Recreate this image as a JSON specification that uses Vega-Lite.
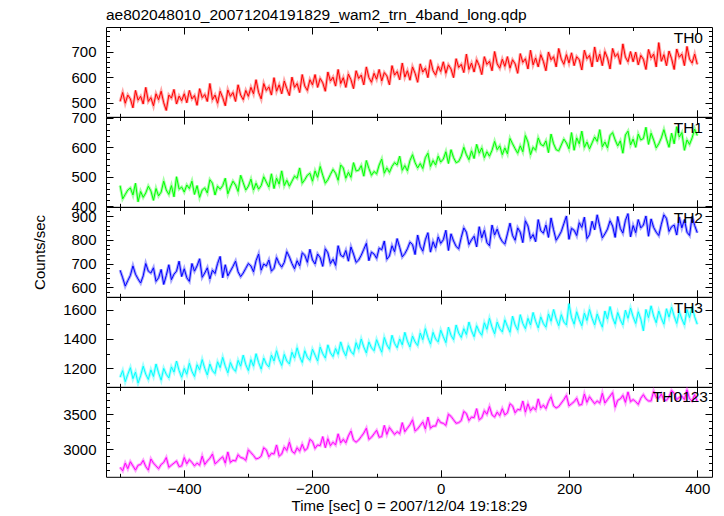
{
  "$schema": "https://vega.github.io/schema/vega-lite/v6.json",
  "autosize": {"type": "none"},
  "padding": {"left": 106, "top": 27, "right": 12, "bottom": 489},
  "background": "white",
  "title": {"text": "ae802048010_20071204191829_wam2_trn_4band_long.qdp", "anchor": "start", "frame": "group", "fontSize": 15.5, "font": "Liberation Sans", "fontWeight": "normal", "baseline": "alphabetic", "offset": -12, "color": "black"},
  "config": {
    "view": {"stroke": "black", "strokeWidth": 1},
    "font": "Liberation Sans",
    "axis": {"domain": false, "grid": false, "tickColor": "black", "tickWidth": 1, "labelColor": "black", "labelFont": "Liberation Sans", "labelFontSize": 15, "titleFont": "Liberation Sans", "titleFontSize": 15, "titleFontWeight": "normal", "titleColor": "black", "labelOverlap": false, "labelFlush": false, "labelBound": false},
    "title": {"font": "Liberation Sans", "fontWeight": "normal", "color": "black"},
    "text": {"font": "Liberation Sans", "fontSize": 15.5, "color": "black", "align": "right", "baseline": "alphabetic"}
  },
  "datasets": {"lc": [
{"time":-500,"TH0":505,"TH1":470,"TH2":672,"TH3":1140,"TH0123":2740},
{"time":-496,"TH0":540,"TH1":425,"TH2":640,"TH3":1185,"TH0123":2690},
{"time":-492,"TH0":498,"TH1":440,"TH2":605,"TH3":1110,"TH0123":2800},
{"time":-488,"TH0":530,"TH1":455,"TH2":628,"TH3":1160,"TH0123":2720},
{"time":-484,"TH0":515,"TH1":462,"TH2":650,"TH3":1205,"TH0123":2820},
{"time":-480,"TH0":480,"TH1":438,"TH2":690,"TH3":1130,"TH0123":2760},
{"time":-476,"TH0":548,"TH1":478,"TH2":655,"TH3":1175,"TH0123":2700},
{"time":-472,"TH0":510,"TH1":415,"TH2":635,"TH3":1100,"TH0123":2770},
{"time":-468,"TH0":525,"TH1":450,"TH2":618,"TH3":1150,"TH0123":2780},
{"time":-464,"TH0":495,"TH1":430,"TH2":648,"TH3":1215,"TH0123":2840},
{"time":-460,"TH0":560,"TH1":445,"TH2":700,"TH3":1160,"TH0123":2750},
{"time":-456,"TH0":505,"TH1":468,"TH2":668,"TH3":1125,"TH0123":2700},
{"time":-452,"TH0":520,"TH1":452,"TH2":660,"TH3":1190,"TH0123":2860},
{"time":-448,"TH0":488,"TH1":420,"TH2":682,"TH3":1145,"TH0123":2800},
{"time":-444,"TH0":535,"TH1":460,"TH2":625,"TH3":1230,"TH0123":2760},
{"time":-440,"TH0":512,"TH1":435,"TH2":640,"TH3":1170,"TH0123":2720},
{"time":-436,"TH0":545,"TH1":448,"TH2":675,"TH3":1120,"TH0123":2780},
{"time":-432,"TH0":500,"TH1":485,"TH2":612,"TH3":1200,"TH0123":2810},
{"time":-428,"TH0":470,"TH1":455,"TH2":650,"TH3":1160,"TH0123":2880},
{"time":-424,"TH0":530,"TH1":440,"TH2":695,"TH3":1135,"TH0123":2740},
{"time":-420,"TH0":518,"TH1":470,"TH2":632,"TH3":1210,"TH0123":2770},
{"time":-416,"TH0":552,"TH1":432,"TH2":655,"TH3":1175,"TH0123":2800},
{"time":-412,"TH0":495,"TH1":500,"TH2":668,"TH3":1250,"TH0123":2830},
{"time":-408,"TH0":526,"TH1":458,"TH2":710,"TH3":1185,"TH0123":2750},
{"time":-404,"TH0":508,"TH1":465,"TH2":645,"TH3":1140,"TH0123":2760},
{"time":-400,"TH0":535,"TH1":448,"TH2":678,"TH3":1200,"TH0123":2880},
{"time":-396,"TH0":500,"TH1":472,"TH2":640,"TH3":1160,"TH0123":2790},
{"time":-392,"TH0":548,"TH1":460,"TH2":625,"TH3":1235,"TH0123":2850},
{"time":-388,"TH0":515,"TH1":485,"TH2":700,"TH3":1180,"TH0123":2810},
{"time":-384,"TH0":528,"TH1":440,"TH2":668,"TH3":1145,"TH0123":2760},
{"time":-380,"TH0":490,"TH1":470,"TH2":690,"TH3":1225,"TH0123":2800},
{"time":-376,"TH0":555,"TH1":430,"TH2":720,"TH3":1190,"TH0123":2770},
{"time":-372,"TH0":520,"TH1":455,"TH2":642,"TH3":1260,"TH0123":2900},
{"time":-368,"TH0":532,"TH1":462,"TH2":660,"TH3":1200,"TH0123":2780},
{"time":-364,"TH0":505,"TH1":445,"TH2":682,"TH3":1155,"TH0123":2830},
{"time":-360,"TH0":575,"TH1":490,"TH2":635,"TH3":1230,"TH0123":2870},
{"time":-356,"TH0":512,"TH1":478,"TH2":672,"TH3":1185,"TH0123":2930},
{"time":-352,"TH0":530,"TH1":438,"TH2":658,"TH3":1165,"TH0123":2790},
{"time":-348,"TH0":498,"TH1":468,"TH2":700,"TH3":1245,"TH0123":2820},
{"time":-344,"TH0":545,"TH1":458,"TH2":730,"TH3":1205,"TH0123":2860},
{"time":-340,"TH0":520,"TH1":470,"TH2":640,"TH3":1275,"TH0123":2890},
{"time":-336,"TH0":488,"TH1":495,"TH2":695,"TH3":1215,"TH0123":2800},
{"time":-332,"TH0":550,"TH1":442,"TH2":648,"TH3":1170,"TH0123":2960},
{"time":-328,"TH0":525,"TH1":465,"TH2":668,"TH3":1240,"TH0123":2810},
{"time":-324,"TH0":540,"TH1":485,"TH2":688,"TH3":1200,"TH0123":2840},
{"time":-320,"TH0":505,"TH1":472,"TH2":710,"TH3":1180,"TH0123":2830},
{"time":-316,"TH0":570,"TH1":450,"TH2":665,"TH3":1255,"TH0123":2920},
{"time":-312,"TH0":530,"TH1":505,"TH2":645,"TH3":1215,"TH0123":2880},
{"time":-308,"TH0":512,"TH1":480,"TH2":660,"TH3":1290,"TH0123":2870},
{"time":-304,"TH0":548,"TH1":455,"TH2":680,"TH3":1225,"TH0123":2840},
{"time":-300,"TH0":525,"TH1":468,"TH2":700,"TH3":1185,"TH0123":2990},
{"time":-296,"TH0":560,"TH1":492,"TH2":690,"TH3":1260,"TH0123":2950},
{"time":-292,"TH0":535,"TH1":455,"TH2":665,"TH3":1215,"TH0123":2910},
{"time":-288,"TH0":590,"TH1":478,"TH2":712,"TH3":1300,"TH0123":2860},
{"time":-284,"TH0":540,"TH1":458,"TH2":740,"TH3":1240,"TH0123":2870},
{"time":-280,"TH0":515,"TH1":470,"TH2":672,"TH3":1195,"TH0123":2900},
{"time":-276,"TH0":575,"TH1":500,"TH2":698,"TH3":1270,"TH0123":3020},
{"time":-272,"TH0":548,"TH1":482,"TH2":690,"TH3":1230,"TH0123":2990},
{"time":-268,"TH0":562,"TH1":465,"TH2":715,"TH3":1210,"TH0123":2890},
{"time":-264,"TH0":530,"TH1":510,"TH2":668,"TH3":1290,"TH0123":2940},
{"time":-260,"TH0":598,"TH1":460,"TH2":680,"TH3":1250,"TH0123":2930},
{"time":-256,"TH0":545,"TH1":495,"TH2":725,"TH3":1320,"TH0123":3060},
{"time":-252,"TH0":570,"TH1":475,"TH2":700,"TH3":1260,"TH0123":2900},
{"time":-248,"TH0":535,"TH1":520,"TH2":685,"TH3":1220,"TH0123":2930},
{"time":-244,"TH0":585,"TH1":470,"TH2":705,"TH3":1295,"TH0123":3030},
{"time":-240,"TH0":555,"TH1":488,"TH2":750,"TH3":1250,"TH0123":2980},
{"time":-236,"TH0":528,"TH1":468,"TH2":728,"TH3":1230,"TH0123":3100},
{"time":-232,"TH0":600,"TH1":485,"TH2":700,"TH3":1310,"TH0123":2970},
{"time":-228,"TH0":560,"TH1":502,"TH2":678,"TH3":1270,"TH0123":2940},
{"time":-224,"TH0":575,"TH1":495,"TH2":712,"TH3":1340,"TH0123":3020},
{"time":-220,"TH0":540,"TH1":530,"TH2":690,"TH3":1280,"TH0123":2970},
{"time":-216,"TH0":610,"TH1":478,"TH2":745,"TH3":1240,"TH0123":3070},
{"time":-212,"TH0":565,"TH1":490,"TH2":735,"TH3":1320,"TH0123":2980},
{"time":-208,"TH0":548,"TH1":505,"TH2":705,"TH3":1275,"TH0123":3010},
{"time":-204,"TH0":590,"TH1":512,"TH2":760,"TH3":1255,"TH0123":3140},
{"time":-200,"TH0":570,"TH1":485,"TH2":715,"TH3":1330,"TH0123":3110},
{"time":-196,"TH0":610,"TH1":520,"TH2":698,"TH3":1290,"TH0123":3010},
{"time":-192,"TH0":560,"TH1":498,"TH2":740,"TH3":1250,"TH0123":3060},
{"time":-188,"TH0":595,"TH1":535,"TH2":725,"TH3":1345,"TH0123":3050},
{"time":-184,"TH0":578,"TH1":505,"TH2":688,"TH3":1300,"TH0123":3180},
{"time":-180,"TH0":545,"TH1":478,"TH2":762,"TH3":1270,"TH0123":3020},
{"time":-176,"TH0":620,"TH1":490,"TH2":745,"TH3":1360,"TH0123":3150},
{"time":-172,"TH0":585,"TH1":508,"TH2":700,"TH3":1305,"TH0123":3050},
{"time":-168,"TH0":600,"TH1":525,"TH2":718,"TH3":1280,"TH0123":3100},
{"time":-164,"TH0":565,"TH1":512,"TH2":692,"TH3":1335,"TH0123":3060},
{"time":-160,"TH0":630,"TH1":488,"TH2":775,"TH3":1295,"TH0123":3220},
{"time":-156,"TH0":575,"TH1":540,"TH2":735,"TH3":1380,"TH0123":3090},
{"time":-152,"TH0":598,"TH1":530,"TH2":728,"TH3":1320,"TH0123":3140},
{"time":-148,"TH0":560,"TH1":495,"TH2":755,"TH3":1285,"TH0123":3090},
{"time":-144,"TH0":612,"TH1":515,"TH2":710,"TH3":1355,"TH0123":3190},
{"time":-140,"TH0":590,"TH1":498,"TH2":770,"TH3":1315,"TH0123":3260},
{"time":-136,"TH0":555,"TH1":548,"TH2":740,"TH3":1295,"TH0123":3130},
{"time":-132,"TH0":625,"TH1":520,"TH2":705,"TH3":1375,"TH0123":3100},
{"time":-128,"TH0":595,"TH1":522,"TH2":715,"TH3":1330,"TH0123":3130},
{"time":-124,"TH0":608,"TH1":538,"TH2":735,"TH3":1400,"TH0123":3180},
{"time":-120,"TH0":570,"TH1":502,"TH2":760,"TH3":1345,"TH0123":3230},
{"time":-116,"TH0":640,"TH1":555,"TH2":785,"TH3":1305,"TH0123":3300},
{"time":-112,"TH0":598,"TH1":528,"TH2":712,"TH3":1380,"TH0123":3140},
{"time":-108,"TH0":580,"TH1":505,"TH2":748,"TH3":1340,"TH0123":3170},
{"time":-104,"TH0":615,"TH1":518,"TH2":740,"TH3":1320,"TH0123":3220},
{"time":-100,"TH0":592,"TH1":510,"TH2":722,"TH3":1395,"TH0123":3270},
{"time":-96,"TH0":630,"TH1":540,"TH2":765,"TH3":1350,"TH0123":3170},
{"time":-92,"TH0":585,"TH1":560,"TH2":758,"TH3":1310,"TH0123":3180},
{"time":-88,"TH0":618,"TH1":512,"TH2":795,"TH3":1410,"TH0123":3340},
{"time":-84,"TH0":605,"TH1":530,"TH2":718,"TH3":1360,"TH0123":3210},
{"time":-80,"TH0":570,"TH1":515,"TH2":732,"TH3":1330,"TH0123":3310},
{"time":-76,"TH0":645,"TH1":535,"TH2":775,"TH3":1425,"TH0123":3260},
{"time":-72,"TH0":608,"TH1":548,"TH2":750,"TH3":1370,"TH0123":3210},
{"time":-68,"TH0":622,"TH1":540,"TH2":805,"TH3":1340,"TH0123":3250},
{"time":-64,"TH0":590,"TH1":570,"TH2":768,"TH3":1400,"TH0123":3220},
{"time":-60,"TH0":655,"TH1":522,"TH2":728,"TH3":1360,"TH0123":3380},
{"time":-56,"TH0":600,"TH1":538,"TH2":742,"TH3":1445,"TH0123":3250},
{"time":-52,"TH0":625,"TH1":520,"TH2":762,"TH3":1385,"TH0123":3300},
{"time":-48,"TH0":588,"TH1":555,"TH2":790,"TH3":1345,"TH0123":3350},
{"time":-44,"TH0":640,"TH1":575,"TH2":780,"TH3":1420,"TH0123":3420},
{"time":-40,"TH0":615,"TH1":548,"TH2":738,"TH3":1380,"TH0123":3260},
{"time":-36,"TH0":580,"TH1":530,"TH2":820,"TH3":1355,"TH0123":3290},
{"time":-32,"TH0":652,"TH1":545,"TH2":772,"TH3":1440,"TH0123":3340},
{"time":-28,"TH0":620,"TH1":528,"TH2":752,"TH3":1395,"TH0123":3390},
{"time":-24,"TH0":635,"TH1":565,"TH2":800,"TH3":1470,"TH0123":3290},
{"time":-20,"TH0":598,"TH1":580,"TH2":830,"TH3":1410,"TH0123":3460},
{"time":-16,"TH0":668,"TH1":535,"TH2":748,"TH3":1365,"TH0123":3300},
{"time":-12,"TH0":625,"TH1":555,"TH2":792,"TH3":1445,"TH0123":3330},
{"time":-8,"TH0":608,"TH1":540,"TH2":765,"TH3":1400,"TH0123":3330},
{"time":-4,"TH0":642,"TH1":570,"TH2":812,"TH3":1380,"TH0123":3430},
{"time":0,"TH0":622,"TH1":550,"TH2":785,"TH3":1460,"TH0123":3380},
{"time":4,"TH0":660,"TH1":560,"TH2":800,"TH3":1415,"TH0123":3370},
{"time":8,"TH0":615,"TH1":585,"TH2":840,"TH3":1375,"TH0123":3340},
{"time":12,"TH0":648,"TH1":545,"TH2":755,"TH3":1480,"TH0123":3500},
{"time":16,"TH0":632,"TH1":592,"TH2":825,"TH3":1425,"TH0123":3470},
{"time":20,"TH0":598,"TH1":565,"TH2":795,"TH3":1395,"TH0123":3420},
{"time":24,"TH0":672,"TH1":548,"TH2":772,"TH3":1495,"TH0123":3370},
{"time":28,"TH0":638,"TH1":552,"TH2":762,"TH3":1440,"TH0123":3380},
{"time":32,"TH0":650,"TH1":570,"TH2":810,"TH3":1410,"TH0123":3410},
{"time":36,"TH0":618,"TH1":600,"TH2":850,"TH3":1470,"TH0123":3540},
{"time":40,"TH0":690,"TH1":575,"TH2":832,"TH3":1430,"TH0123":3510},
{"time":44,"TH0":630,"TH1":558,"TH2":780,"TH3":1515,"TH0123":3410},
{"time":48,"TH0":655,"TH1":588,"TH2":800,"TH3":1455,"TH0123":3460},
{"time":52,"TH0":620,"TH1":562,"TH2":815,"TH3":1415,"TH0123":3450},
{"time":56,"TH0":668,"TH1":610,"TH2":770,"TH3":1490,"TH0123":3580},
{"time":60,"TH0":645,"TH1":580,"TH2":855,"TH3":1450,"TH0123":3420},
{"time":64,"TH0":610,"TH1":598,"TH2":808,"TH3":1425,"TH0123":3450},
{"time":68,"TH0":680,"TH1":565,"TH2":840,"TH3":1510,"TH0123":3550},
{"time":72,"TH0":650,"TH1":585,"TH2":788,"TH3":1465,"TH0123":3500},
{"time":76,"TH0":662,"TH1":570,"TH2":775,"TH3":1540,"TH0123":3610},
{"time":80,"TH0":625,"TH1":590,"TH2":862,"TH3":1480,"TH0123":3490},
{"time":84,"TH0":700,"TH1":620,"TH2":820,"TH3":1435,"TH0123":3460},
{"time":88,"TH0":652,"TH1":592,"TH2":845,"TH3":1515,"TH0123":3530},
{"time":92,"TH0":635,"TH1":605,"TH2":812,"TH3":1470,"TH0123":3480},
{"time":96,"TH0":670,"TH1":575,"TH2":792,"TH3":1448,"TH0123":3580},
{"time":100,"TH0":642,"TH1":598,"TH2":782,"TH3":1530,"TH0123":3490},
{"time":104,"TH0":680,"TH1":578,"TH2":825,"TH3":1485,"TH0123":3520},
{"time":108,"TH0":635,"TH1":630,"TH2":870,"TH3":1445,"TH0123":3650},
{"time":112,"TH0":668,"TH1":612,"TH2":818,"TH3":1555,"TH0123":3620},
{"time":116,"TH0":652,"TH1":595,"TH2":798,"TH3":1495,"TH0123":3520},
{"time":120,"TH0":615,"TH1":580,"TH2":850,"TH3":1460,"TH0123":3570},
{"time":124,"TH0":692,"TH1":605,"TH2":832,"TH3":1565,"TH0123":3560},
{"time":128,"TH0":658,"TH1":585,"TH2":788,"TH3":1505,"TH0123":3690},
{"time":132,"TH0":672,"TH1":640,"TH2":880,"TH3":1470,"TH0123":3530},
{"time":136,"TH0":632,"TH1":618,"TH2":858,"TH3":1540,"TH0123":3650},
{"time":140,"TH0":705,"TH1":575,"TH2":805,"TH3":1495,"TH0123":3550},
{"time":144,"TH0":648,"TH1":600,"TH2":822,"TH3":1580,"TH0123":3600},
{"time":148,"TH0":675,"TH1":590,"TH2":792,"TH3":1520,"TH0123":3560},
{"time":152,"TH0":640,"TH1":632,"TH2":885,"TH3":1475,"TH0123":3720},
{"time":156,"TH0":688,"TH1":610,"TH2":838,"TH3":1550,"TH0123":3590},
{"time":160,"TH0":662,"TH1":605,"TH2":828,"TH3":1505,"TH0123":3630},
{"time":164,"TH0":625,"TH1":622,"TH2":862,"TH3":1480,"TH0123":3580},
{"time":168,"TH0":698,"TH1":582,"TH2":810,"TH3":1570,"TH0123":3680},
{"time":172,"TH0":668,"TH1":645,"TH2":892,"TH3":1520,"TH0123":3750},
{"time":176,"TH0":680,"TH1":612,"TH2":842,"TH3":1600,"TH0123":3620},
{"time":180,"TH0":640,"TH1":592,"TH2":798,"TH3":1535,"TH0123":3590},
{"time":184,"TH0":712,"TH1":588,"TH2":815,"TH3":1490,"TH0123":3610},
{"time":188,"TH0":670,"TH1":608,"TH2":835,"TH3":1565,"TH0123":3660},
{"time":192,"TH0":650,"TH1":628,"TH2":868,"TH3":1515,"TH0123":3710},
{"time":196,"TH0":688,"TH1":615,"TH2":900,"TH3":1495,"TH0123":3770},
{"time":200,"TH0":655,"TH1":595,"TH2":802,"TH3":1640,"TH0123":3620},
{"time":204,"TH0":695,"TH1":650,"TH2":848,"TH3":1545,"TH0123":3650},
{"time":208,"TH0":645,"TH1":590,"TH2":840,"TH3":1500,"TH0123":3680},
{"time":212,"TH0":680,"TH1":632,"TH2":818,"TH3":1585,"TH0123":3730},
{"time":216,"TH0":668,"TH1":612,"TH2":872,"TH3":1530,"TH0123":3630},
{"time":220,"TH0":628,"TH1":655,"TH2":852,"TH3":1490,"TH0123":3640},
{"time":224,"TH0":705,"TH1":600,"TH2":895,"TH3":1575,"TH0123":3790},
{"time":228,"TH0":672,"TH1":618,"TH2":805,"TH3":1525,"TH0123":3670},
{"time":232,"TH0":685,"TH1":595,"TH2":822,"TH3":1600,"TH0123":3750},
{"time":236,"TH0":640,"TH1":615,"TH2":878,"TH3":1540,"TH0123":3700},
{"time":240,"TH0":718,"TH1":635,"TH2":842,"TH3":1495,"TH0123":3650},
{"time":244,"TH0":660,"TH1":620,"TH2":905,"TH3":1570,"TH0123":3690},
{"time":248,"TH0":690,"TH1":660,"TH2":855,"TH3":1520,"TH0123":3660},
{"time":252,"TH0":645,"TH1":602,"TH2":808,"TH3":1480,"TH0123":3800},
{"time":256,"TH0":700,"TH1":618,"TH2":825,"TH3":1590,"TH0123":3660},
{"time":260,"TH0":675,"TH1":598,"TH2":845,"TH3":1535,"TH0123":3710},
{"time":264,"TH0":632,"TH1":640,"TH2":880,"TH3":1620,"TH0123":3760},
{"time":268,"TH0":712,"TH1":650,"TH2":858,"TH3":1545,"TH0123":3810},
{"time":272,"TH0":680,"TH1":625,"TH2":810,"TH3":1500,"TH0123":3600},
{"time":276,"TH0":692,"TH1":605,"TH2":898,"TH3":1580,"TH0123":3700},
{"time":280,"TH0":650,"TH1":622,"TH2":848,"TH3":1530,"TH0123":3720},
{"time":284,"TH0":730,"TH1":580,"TH2":828,"TH3":1495,"TH0123":3770},
{"time":288,"TH0":678,"TH1":642,"TH2":882,"TH3":1595,"TH0123":3670},
{"time":292,"TH0":660,"TH1":655,"TH2":910,"TH3":1540,"TH0123":3820},
{"time":296,"TH0":700,"TH1":608,"TH2":812,"TH3":1610,"TH0123":3680},
{"time":300,"TH0":660,"TH1":628,"TH2":860,"TH3":1550,"TH0123":3710},
{"time":304,"TH0":698,"TH1":600,"TH2":830,"TH3":1505,"TH0123":3680},
{"time":308,"TH0":648,"TH1":645,"TH2":885,"TH3":1585,"TH0123":3640},
{"time":312,"TH0":685,"TH1":625,"TH2":850,"TH3":1535,"TH0123":3730},
{"time":316,"TH0":670,"TH1":630,"TH2":862,"TH3":1455,"TH0123":3780},
{"time":320,"TH0":630,"TH1":668,"TH2":900,"TH3":1600,"TH0123":3720},
{"time":324,"TH0":708,"TH1":610,"TH2":815,"TH3":1545,"TH0123":3690},
{"time":328,"TH0":675,"TH1":648,"TH2":888,"TH3":1625,"TH0123":3690},
{"time":332,"TH0":690,"TH1":625,"TH2":852,"TH3":1555,"TH0123":3830},
{"time":336,"TH0":640,"TH1":598,"TH2":832,"TH3":1510,"TH0123":3740},
{"time":340,"TH0":735,"TH1":612,"TH2":818,"TH3":1590,"TH0123":3730},
{"time":344,"TH0":662,"TH1":632,"TH2":865,"TH3":1540,"TH0123":3790},
{"time":348,"TH0":688,"TH1":660,"TH2":905,"TH3":1500,"TH0123":3700},
{"time":352,"TH0":645,"TH1":628,"TH2":890,"TH3":1605,"TH0123":3700},
{"time":356,"TH0":702,"TH1":600,"TH2":835,"TH3":1548,"TH0123":3750},
{"time":360,"TH0":672,"TH1":648,"TH2":855,"TH3":1615,"TH0123":3840},
{"time":364,"TH0":630,"TH1":612,"TH2":862,"TH3":1555,"TH0123":3800},
{"time":368,"TH0":710,"TH1":670,"TH2":820,"TH3":1505,"TH0123":3710},
{"time":372,"TH0":678,"TH1":635,"TH2":895,"TH3":1585,"TH0123":3740},
{"time":376,"TH0":690,"TH1":650,"TH2":850,"TH3":1535,"TH0123":3760},
{"time":380,"TH0":645,"TH1":590,"TH2":885,"TH3":1495,"TH0123":3710},
{"time":384,"TH0":720,"TH1":625,"TH2":832,"TH3":1600,"TH0123":3850},
{"time":388,"TH0":670,"TH1":610,"TH2":818,"TH3":1545,"TH0123":3720},
{"time":392,"TH0":655,"TH1":632,"TH2":898,"TH3":1620,"TH0123":3690},
{"time":396,"TH0":690,"TH1":662,"TH2":860,"TH3":1550,"TH0123":3780},
{"time":400,"TH0":650,"TH1":640,"TH2":830,"TH3":1500,"TH0123":3680}
  ]},
  "data": {"name": "lc"},
  "spacing": 0,
  "bounds": "flush",
  "vconcat": [
    {
      "width": 606, "height": 89.8,
      "layer": [
        {"mark": {"type": "line", "color": "#ff0000", "strokeWidth": 3, "opacity": 0.35, "clip": true},
         "encoding": {
           "x": {"field": "time", "type": "quantitative", "scale": {"domain": [-522, 423], "nice": false, "zero": false}, "axis": {"orient": "bottom", "values": [-500,-400,-300,-200,-100,0,100,200,300,400], "labels": false, "title": null, "tickSize": {"condition": {"test": "datum.value % 200 === 0", "value": -7}, "value": -3.5}}},
           "y": {"field": "TH0", "type": "quantitative", "scale": {"domain": [445, 796], "nice": false, "zero": false}, "axis": {"orient": "left", "format": "d", "values": [460,480,500,520,540,560,580,600,620,640,660,680,700,720,740,760,780], "labelExpr": "datum.value % 100 === 0 ? datum.label : ''", "labelPadding": 17, "title": null, "tickSize": {"condition": {"test": "datum.value % 100 === 0", "value": -7}, "value": -3.5}}}
         }},
        {"mark": {"type": "line", "color": "#ff0000", "strokeWidth": 1, "clip": true},
         "encoding": {
           "x": {"field": "time", "type": "quantitative", "axis": {"orient": "top", "values": [-500,-400,-300,-200,-100,0,100,200,300,400], "labels": false, "title": null, "tickSize": {"condition": {"test": "datum.value % 200 === 0", "value": -7}, "value": -3.5}}},
           "y": {"field": "TH0", "type": "quantitative", "axis": {"orient": "right", "values": [460,480,500,520,540,560,580,600,620,640,660,680,700,720,740,760,780], "labels": false, "title": null, "tickSize": {"condition": {"test": "datum.value % 100 === 0", "value": -7}, "value": -3.5}}}
         }},
        {"data": {"values": [{"label": "TH0"}]},
         "mark": {"type": "text", "dx": -9, "dy": 16},
         "encoding": {"text": {"field": "label"}, "x": {"datum": 423, "type": "quantitative", "axis": null}, "y": {"datum": 796, "type": "quantitative", "axis": null}}}
      ],
      "resolve": {"axis": {"x": "independent", "y": "independent"}}
    },
    {
      "width": 606, "height": 89.8,
      "layer": [
        {"mark": {"type": "line", "color": "#00ff00", "strokeWidth": 3, "opacity": 0.35, "clip": true},
         "encoding": {
           "x": {"field": "time", "type": "quantitative", "scale": {"domain": [-522, 423], "nice": false, "zero": false}, "axis": {"orient": "bottom", "values": [-500,-400,-300,-200,-100,0,100,200,300,400], "labels": false, "title": null, "tickSize": {"condition": {"test": "datum.value % 200 === 0", "value": -7}, "value": -3.5}}},
           "y": {"field": "TH1", "type": "quantitative", "scale": {"domain": [398, 703], "nice": false, "zero": false}, "axis": {"orient": "left", "format": "d", "values": [400,420,440,460,480,500,520,540,560,580,600,620,640,660,680,700], "labelExpr": "datum.value % 100 === 0 ? datum.label : ''", "labelPadding": 17, "title": null, "tickSize": {"condition": {"test": "datum.value % 100 === 0", "value": -7}, "value": -3.5}}}
         }},
        {"mark": {"type": "line", "color": "#00ff00", "strokeWidth": 1, "clip": true},
         "encoding": {
           "x": {"field": "time", "type": "quantitative", "axis": {"orient": "top", "values": [-500,-400,-300,-200,-100,0,100,200,300,400], "labels": false, "title": null, "tickSize": {"condition": {"test": "datum.value % 200 === 0", "value": -7}, "value": -3.5}}},
           "y": {"field": "TH1", "type": "quantitative", "axis": {"orient": "right", "values": [400,420,440,460,480,500,520,540,560,580,600,620,640,660,680,700], "labels": false, "title": null, "tickSize": {"condition": {"test": "datum.value % 100 === 0", "value": -7}, "value": -3.5}}}
         }},
        {"data": {"values": [{"label": "TH1"}]},
         "mark": {"type": "text", "dx": -9, "dy": 16},
         "encoding": {"text": {"field": "label"}, "x": {"datum": 423, "type": "quantitative", "axis": null}, "y": {"datum": 703, "type": "quantitative", "axis": null}}}
      ],
      "resolve": {"axis": {"x": "independent", "y": "independent"}}
    },
    {
      "width": 606, "height": 89.8,
      "layer": [
        {"mark": {"type": "line", "color": "#0000ff", "strokeWidth": 3, "opacity": 0.35, "clip": true},
         "encoding": {
           "x": {"field": "time", "type": "quantitative", "scale": {"domain": [-522, 423], "nice": false, "zero": false}, "axis": {"orient": "bottom", "values": [-500,-400,-300,-200,-100,0,100,200,300,400], "labels": false, "title": null, "tickSize": {"condition": {"test": "datum.value % 200 === 0", "value": -7}, "value": -3.5}}},
           "y": {"field": "TH2", "type": "quantitative", "scale": {"domain": [560, 938], "nice": false, "zero": false}, "axis": {"orient": "left", "format": "d", "values": [580,600,620,640,660,680,700,720,740,760,780,800,820,840,860,880,900,920], "labelExpr": "datum.value % 100 === 0 ? datum.label : ''", "labelPadding": 17, "title": "Counts/sec", "titlePadding": 23, "tickSize": {"condition": {"test": "datum.value % 100 === 0", "value": -7}, "value": -3.5}}}
         }},
        {"mark": {"type": "line", "color": "#0000ff", "strokeWidth": 1, "clip": true},
         "encoding": {
           "x": {"field": "time", "type": "quantitative", "axis": {"orient": "top", "values": [-500,-400,-300,-200,-100,0,100,200,300,400], "labels": false, "title": null, "tickSize": {"condition": {"test": "datum.value % 200 === 0", "value": -7}, "value": -3.5}}},
           "y": {"field": "TH2", "type": "quantitative", "axis": {"orient": "right", "values": [580,600,620,640,660,680,700,720,740,760,780,800,820,840,860,880,900,920], "labels": false, "title": null, "tickSize": {"condition": {"test": "datum.value % 100 === 0", "value": -7}, "value": -3.5}}}
         }},
        {"data": {"values": [{"label": "TH2"}]},
         "mark": {"type": "text", "dx": -9, "dy": 16},
         "encoding": {"text": {"field": "label"}, "x": {"datum": 423, "type": "quantitative", "axis": null}, "y": {"datum": 938, "type": "quantitative", "axis": null}}}
      ],
      "resolve": {"axis": {"x": "independent", "y": "independent"}}
    },
    {
      "width": 606, "height": 89.8,
      "layer": [
        {"mark": {"type": "line", "color": "#00ffff", "strokeWidth": 3, "opacity": 0.35, "clip": true},
         "encoding": {
           "x": {"field": "time", "type": "quantitative", "scale": {"domain": [-522, 423], "nice": false, "zero": false}, "axis": {"orient": "bottom", "values": [-500,-400,-300,-200,-100,0,100,200,300,400], "labels": false, "title": null, "tickSize": {"condition": {"test": "datum.value % 200 === 0", "value": -7}, "value": -3.5}}},
           "y": {"field": "TH3", "type": "quantitative", "scale": {"domain": [1075, 1685], "nice": false, "zero": false}, "axis": {"orient": "left", "format": "d", "values": [1100,1200,1300,1400,1500,1600], "labelExpr": "datum.value % 200 === 0 ? datum.label : ''", "labelPadding": 17, "title": null, "tickSize": {"condition": {"test": "datum.value % 200 === 0", "value": -7}, "value": -3.5}}}
         }},
        {"mark": {"type": "line", "color": "#00ffff", "strokeWidth": 1, "clip": true},
         "encoding": {
           "x": {"field": "time", "type": "quantitative", "axis": {"orient": "top", "values": [-500,-400,-300,-200,-100,0,100,200,300,400], "labels": false, "title": null, "tickSize": {"condition": {"test": "datum.value % 200 === 0", "value": -7}, "value": -3.5}}},
           "y": {"field": "TH3", "type": "quantitative", "axis": {"orient": "right", "values": [1100,1200,1300,1400,1500,1600], "labels": false, "title": null, "tickSize": {"condition": {"test": "datum.value % 200 === 0", "value": -7}, "value": -3.5}}}
         }},
        {"data": {"values": [{"label": "TH3"}]},
         "mark": {"type": "text", "dx": -9, "dy": 16},
         "encoding": {"text": {"field": "label"}, "x": {"datum": 423, "type": "quantitative", "axis": null}, "y": {"datum": 1685, "type": "quantitative", "axis": null}}}
      ],
      "resolve": {"axis": {"x": "independent", "y": "independent"}}
    },
    {
      "width": 606, "height": 89.8,
      "layer": [
        {"mark": {"type": "line", "color": "#ff00ff", "strokeWidth": 3, "opacity": 0.35, "clip": true},
         "encoding": {
           "x": {"field": "time", "type": "quantitative", "scale": {"domain": [-522, 423], "nice": false, "zero": false}, "axis": {"orient": "bottom", "values": [-500,-400,-300,-200,-100,0,100,200,300,400], "labelExpr": "datum.value % 200 === 0 ? datum.label : ''", "labelPadding": 12, "title": "Time [sec] 0 = 2007/12/04 19:18:29", "titlePadding": -2, "tickSize": {"condition": {"test": "datum.value % 200 === 0", "value": -7}, "value": -3.5}}},
           "y": {"field": "TH0123", "type": "quantitative", "scale": {"domain": [2604, 3890], "nice": false, "zero": false}, "axis": {"orient": "left", "format": "d", "values": [2700,2800,2900,3000,3100,3200,3300,3400,3500,3600,3700,3800], "labelExpr": "datum.value % 500 === 0 ? datum.label : ''", "labelPadding": 17, "title": null, "tickSize": {"condition": {"test": "datum.value % 500 === 0", "value": -7}, "value": -3.5}}}
         }},
        {"mark": {"type": "line", "color": "#ff00ff", "strokeWidth": 1, "clip": true},
         "encoding": {
           "x": {"field": "time", "type": "quantitative", "axis": {"orient": "top", "values": [-500,-400,-300,-200,-100,0,100,200,300,400], "labels": false, "title": null, "tickSize": {"condition": {"test": "datum.value % 200 === 0", "value": -7}, "value": -3.5}}},
           "y": {"field": "TH0123", "type": "quantitative", "axis": {"orient": "right", "values": [2700,2800,2900,3000,3100,3200,3300,3400,3500,3600,3700,3800], "labels": false, "title": null, "tickSize": {"condition": {"test": "datum.value % 500 === 0", "value": -7}, "value": -3.5}}}
         }},
        {"data": {"values": [{"label": "TH0123"}]},
         "mark": {"type": "text", "dx": -4, "dy": 15},
         "encoding": {"text": {"field": "label"}, "x": {"datum": 423, "type": "quantitative", "axis": null}, "y": {"datum": 3890, "type": "quantitative", "axis": null}}}
      ],
      "resolve": {"axis": {"x": "independent", "y": "independent"}}
    }
  ]
}
